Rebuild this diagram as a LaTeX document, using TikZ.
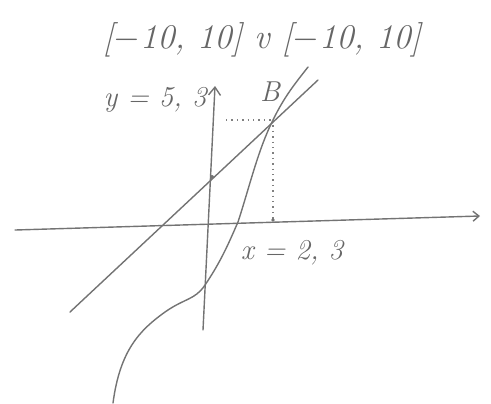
\documentclass[tikz,border=0pt]{standalone}
\usetikzlibrary{arrows.meta}
\begin{document}
\begin{tikzpicture}[x=0.5pt,y=-0.5pt,
  pen/.style={draw=black!55, line width=0.7pt, line cap=round},
  dots/.style={draw=black!50, line width=0.7pt, dotted},
  hand/.style={text=black!60, font=\itshape\Large, inner sep=1pt}]
\useasboundingbox (0,0) rectangle (491,403);
% axes
\coordinate (xl) at (15,230);
\coordinate (xr) at (480,216);
\coordinate (yb) at (203,330);
\coordinate (yt) at (215,86);
\draw[pen, -{Straight Barb[length=3pt,width=5pt]}] (xl) -- (xr);
\draw[pen, -{Straight Barb[length=4pt,width=6pt]}] (yb) -- (yt);
% straight line
\coordinate (l0) at (70,312);
\coordinate (l1) at (318,80);
\draw[pen] (l0) -- (l1);
% curve
\coordinate (B) at (273,120);
\coordinate (c0) at (113,403);
\coordinate (c1) at (165,312);
\coordinate (c2) at (205,285);
\coordinate (c3) at (238,222);
\coordinate (c4) at (308,67);
\draw[pen] (c0) .. controls (120,350) and (140,330) .. (c1)
  .. controls (185,298) and (195,300) .. (c2)
  .. controls (222,260) and (230,240) .. (c3)
  .. controls (250,185) and (258,150) .. (B)
  .. controls (285,95) and (298,80) .. (c4);
% dotted guides
\coordinate (yd) at (226,120);
\coordinate (xd) at (273,220);
\draw[dots] (yd) -- (B);
\draw[dots] (B) -- (xd);
\fill[black!55] (212,177) circle (2);
\fill[black!55] (xd) circle (1.8);
% labels
\node[hand, scale=1.2] (title) at (262,40) {[$-$10, 10] v [$-$10, 10]};
\node[hand] (ylab) at (155,100) {y = 5, 3};
\node[hand] (Blab) at (270,92) {B};
\node[hand] (xlab) at (292,253) {x = 2, 3};
\end{tikzpicture}
\end{document}
